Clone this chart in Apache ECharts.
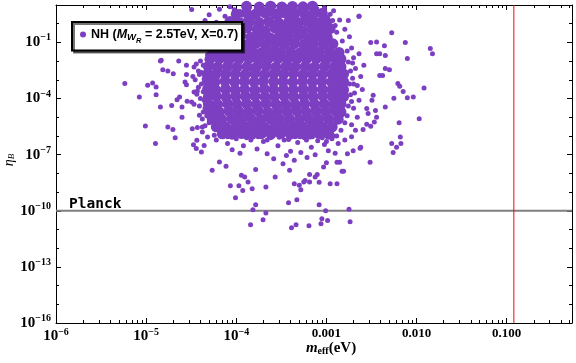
<!DOCTYPE html>
<html>
<head>
<meta charset="utf-8">
<script src="https://cdn.jsdelivr.net/npm/echarts@6/dist/echarts.min.js"></script>
<style>
  html, body { margin: 0; padding: 0; background: #fff; }
  #chart { width: 576px; height: 363px; }
</style>
</head>
<body>
<div id="chart"></div>
<script>
// m_eff (eV) vs eta_B
var coreCloud = [
  [1.3e-4,8.5],[1.8e-4,7.8],[2.4e-4,8.6],[3.2e-4,7.9],[4.2e-4,8.4],[5.5e-4,8.0],[7.0e-4,8.7],
  [1.0e-4,3.2],[1.3e-4,3.8],[1.65e-4,3.3],[2.1e-4,3.7],[2.7e-4,3.3],[3.45e-4,3.8],[4.4e-4,3.2],[5.6e-4,3.7],[7.2e-4,3.4],[9.0e-4,3.6],
  [8.5e-5,1.3],[1.1e-4,1.1],[1.4e-4,1.35],[1.8e-4,1.15],[2.3e-4,1.3],[2.95e-4,1.1],[3.8e-4,1.25],[4.85e-4,1.15],[6.2e-4,1.3],[8.0e-4,1.1],[1.0e-3,1.2],
  [8.2e-5,0.55],[1.05e-4,0.45],[1.32e-4,0.6],[1.7e-4,0.5],[2.1e-4,0.42],[2.7e-4,0.58],[3.4e-4,0.48],[4.3e-4,0.55],[5.4e-4,0.44],[6.9e-4,0.52],[8.8e-4,0.47],[1.1e-3,0.55],
  [6.5e-5,0.21],[8.6e-5,0.18],[1.12e-4,0.23],[1.45e-4,0.19],[1.85e-4,0.22],[2.35e-4,0.18],[3.0e-4,0.21],[3.8e-4,0.2],[4.9e-4,0.23],[6.2e-4,0.18],[7.9e-4,0.21],[1.02e-3,0.19],
  [6.2e-5,8.5e-2],[7.8e-5,7.5e-2],[1.0e-4,8.2e-2],[1.3e-4,7.6e-2],[1.65e-4,8.8e-2],[2.1e-4,7.4e-2],[2.7e-4,8.3e-2],[3.4e-4,7.8e-2],[4.4e-4,8.6e-2],[5.6e-4,7.6e-2],[7.2e-4,8.1e-2],[9.2e-4,7.9e-2],[1.18e-3,8.4e-2],
  [5.5e-5,3.2e-2],[7.1e-5,2.8e-2],[9.1e-5,3.1e-2],[1.17e-4,2.9e-2],[1.5e-4,3.3e-2],[1.9e-4,2.8e-2],[2.45e-4,3.1e-2],[3.1e-4,2.9e-2],[4.0e-4,3.2e-2],[5.1e-4,2.8e-2],[6.6e-4,3.1e-2],[8.4e-4,3.0e-2],[1.08e-3,3.2e-2],[1.38e-3,2.9e-2],
  [5.1e-5,1.25e-2],[6.5e-5,1.35e-2],[8.3e-5,1.2e-2],[1.07e-4,1.3e-2],[1.38e-4,1.4e-2],[1.75e-4,1.22e-2],[2.25e-4,1.3e-2],[2.9e-4,1.38e-2],[3.7e-4,1.24e-2],[4.7e-4,1.32e-2],[6.0e-4,1.27e-2],[7.7e-4,1.36e-2],[9.9e-4,1.22e-2],[1.27e-3,1.3e-2],[1.45e-3,1.28e-2],
  [4.9e-5,5.2e-3],[6.2e-5,4.7e-3],[8.0e-5,5.3e-3],[1.02e-4,4.8e-3],[1.32e-4,5.1e-3],[1.68e-4,4.9e-3],[2.15e-4,5.4e-3],[2.75e-4,4.7e-3],[3.55e-4,5.2e-3],[4.5e-4,4.9e-3],[5.8e-4,5.1e-3],[7.4e-4,4.8e-3],[9.5e-4,5.3e-3],[1.22e-3,4.9e-3],[1.45e-3,5.1e-3],
  [4.8e-5,2.1e-3],[5.9e-5,1.9e-3],[7.6e-5,2.1e-3],[9.7e-5,2.0e-3],[1.25e-4,1.9e-3],[1.6e-4,2.2e-3],[2.05e-4,1.9e-3],[2.6e-4,2.1e-3],[3.35e-4,2.0e-3],[4.3e-4,2.2e-3],[5.5e-4,1.9e-3],[7.0e-4,2.1e-3],[9.0e-4,1.95e-3],[1.15e-3,2.1e-3],[1.4e-3,1.9e-3],[1.55e-3,2.05e-3],
  [4.8e-5,8.3e-4],[5.8e-5,7.7e-4],[7.5e-5,8.5e-4],[9.6e-5,7.8e-4],[1.23e-4,8.2e-4],[1.58e-4,7.6e-4],[2.0e-4,8.4e-4],[2.6e-4,7.9e-4],[3.3e-4,8.1e-4],[4.25e-4,7.7e-4],[5.45e-4,8.3e-4],[7.0e-4,7.9e-4],[8.9e-4,8.2e-4],[1.14e-3,7.8e-4],[1.4e-3,8.3e-4],[1.55e-3,7.9e-4],
  [4.8e-5,3.1e-4],[5.9e-5,2.9e-4],[7.6e-5,3.2e-4],[9.7e-5,2.9e-4],[1.24e-4,3.1e-4],[1.6e-4,2.8e-4],[2.05e-4,3.2e-4],[2.6e-4,3.0e-4],[3.35e-4,3.1e-4],[4.3e-4,2.9e-4],[5.5e-4,3.2e-4],[7.0e-4,2.9e-4],[9.0e-4,3.1e-4],[1.15e-3,3.0e-4],[1.4e-3,3.2e-4],[1.55e-3,2.9e-4],
  [4.9e-5,1.25e-4],[6.0e-5,1.35e-4],[7.7e-5,1.22e-4],[9.9e-5,1.32e-4],[1.27e-4,1.26e-4],[1.62e-4,1.36e-4],[2.08e-4,1.24e-4],[2.65e-4,1.3e-4],[3.4e-4,1.34e-4],[4.35e-4,1.25e-4],[5.6e-4,1.32e-4],[7.15e-4,1.27e-4],[9.15e-4,1.35e-4],[1.17e-3,1.24e-4],[1.4e-3,1.3e-4],[1.55e-3,1.28e-4],
  [4.9e-5,5.2e-5],[6.2e-5,4.8e-5],[8.0e-5,5.3e-5],[1.02e-4,4.9e-5],[1.31e-4,5.1e-5],[1.68e-4,4.7e-5],[2.15e-4,5.3e-5],[2.75e-4,4.9e-5],[3.5e-4,5.1e-5],[4.5e-4,4.8e-5],[5.75e-4,5.2e-5],[7.4e-4,4.9e-5],[9.45e-4,5.1e-5],[1.21e-3,4.8e-5],[1.45e-3,5.2e-5],
  [5.1e-5,2.1e-5],[6.5e-5,1.9e-5],[8.3e-5,2.1e-5],[1.07e-4,2.0e-5],[1.37e-4,1.9e-5],[1.75e-4,2.2e-5],[2.24e-4,1.9e-5],[2.87e-4,2.1e-5],[3.67e-4,2.0e-5],[4.7e-4,2.2e-5],[6.0e-4,1.9e-5],[7.7e-4,2.1e-5],[9.85e-4,2.0e-5],[1.26e-3,2.1e-5],[1.45e-3,1.9e-5],
  [5.4e-5,8.2e-6],[6.9e-5,7.7e-6],[8.9e-5,8.4e-6],[1.14e-4,7.8e-6],[1.46e-4,8.1e-6],[1.87e-4,7.6e-6],[2.4e-4,8.3e-6],[3.05e-4,7.9e-6],[3.9e-4,8.2e-6],[5.0e-4,7.7e-6],[6.4e-4,8.4e-6],[8.2e-4,7.8e-6],[1.05e-3,8.1e-6],[1.35e-3,7.9e-6],
  [6.0e-5,3.1e-6],[7.7e-5,2.9e-6],[9.9e-5,3.2e-6],[1.27e-4,2.9e-6],[1.62e-4,3.1e-6],[2.08e-4,2.8e-6],[2.66e-4,3.2e-6],[3.4e-4,3.0e-6],[4.35e-4,3.1e-6],[5.55e-4,2.9e-6],[7.1e-4,3.2e-6],[9.1e-4,2.9e-6],[1.16e-3,3.1e-6],
  [7.0e-5,1.3e-6],[9.0e-5,1.25e-6],[1.15e-4,1.35e-6],[1.48e-4,1.22e-6],[1.9e-4,1.32e-6],[2.43e-4,1.26e-6],[3.1e-4,1.35e-6],[3.97e-4,1.24e-6],[5.1e-4,1.32e-6],[6.5e-4,1.27e-6],[8.3e-4,1.33e-6],[1.06e-3,1.25e-6]
];

var topBand = [
  [6.0e-5,1.2],[7.5e-5,2.5],[9.0e-5,0.9],[1.1e-4,4.5],[1.25e-4,1.5],[1.4e-4,7.5],[1.6e-4,3.0],[1.8e-4,1.0],[2.0e-4,6.0],[2.2e-4,2.0],
  [2.5e-4,0.8],[2.8e-4,4.0],[3.1e-4,1.4],[3.5e-4,8.0],[3.9e-4,2.6],[4.4e-4,1.0],[4.9e-4,5.0],[5.5e-4,1.8],[6.2e-4,3.5],[7.0e-4,0.9],
  [7.8e-4,6.5],[8.7e-4,2.0],[9.8e-4,1.1],[1.1e-3,3.2],[1.25e-3,0.8],[1.4e-3,1.6],[1.3e-4,0.9],[1.7e-4,1.6],[2.3e-4,3.5],[2.6e-4,9.0],
  [3.0e-4,2.2],[3.3e-4,0.75],[3.7e-4,4.8],[4.1e-4,1.5],[4.6e-4,3.0],[5.2e-4,8.5],[5.8e-4,1.1],[6.6e-4,2.4],[7.4e-4,1.5],[8.2e-4,4.2],
  [9.2e-4,0.75],[1.03e-3,2.2],[1.17e-3,1.5],[9.5e-5,5.5],[1.15e-4,2.8],[7.0e-5,0.8],[1.5e-4,1.1],[1.9e-4,8.8],[2.4e-4,1.3],[4.0e-4,6.8],
  [6.0e-4,6.0],[1.0e-4,1.8],[3.2e-5,5.7],[2.3e-3,2.5],[5.0e-5,3.0],[6.5e-5,6.0],[4.5e-5,1.5],[8.5e-5,8.0],[9.5e-4,7.0],[1.2e-3,5.0]
];

var leftSpread = [
  [5.8e-6,6.3e-4],[8.4e-6,1.2e-4],[1.04e-5,5.1e-4],[1.18e-5,6.7e-4],[1.29e-5,4.1e-4],[1.29e-5,1.6e-4],[1.44e-5,1.0e-2],[2.3e-5,1.0e-2],
  [1.53e-5,3.5e-3],[1.74e-5,3.0e-3],[2.0e-5,2.1e-3],[2.8e-5,6.0e-3],[3.4e-5,4.8e-3],[2.8e-5,1.9e-3],[2.7e-5,7.6e-4],[2.8e-5,5.5e-4],
  [3.4e-5,2.2e-4],[3.65e-5,1.7e-4],[1.44e-5,3.5e-5],[1.92e-5,4.3e-5],[2.2e-5,8.7e-5],[2.35e-5,1.2e-4],[2.5e-5,3.5e-5],[2.5e-5,1.0e-5],
  [2.85e-5,7.1e-5],[3.2e-5,6.5e-5],[9.8e-6,3.4e-6],[1.27e-5,3.9e-7],[1.74e-5,3.0e-6],[1.98e-5,2.2e-6],[2.1e-5,8.1e-7],[3.25e-5,2.45e-6],
  [3.7e-5,2.8e-6],[4.2e-5,3.0e-6],[4.2e-5,1.6e-6],[3.65e-5,5.8e-7],[3.35e-5,3.4e-7],[3.6e-5,2.1e-7],[5.7e-5,1.08e-6],[3.9e-5,1.26e-5],
  [4.3e-5,1.9e-5],[3.9e-5,1.9e-3],[4.45e-5,1.7e-3],[1.47e-5,1.1e-2],[4.0e-5,1.0e-2],[3.8e-5,3.0e-3],[3.5e-5,1.0e-3],[3.8e-5,4.0e-4],
  [4.0e-5,1.0e-4],[3.9e-5,4.0e-5],[4.2e-5,8.0e-6],[4.5e-5,3.5e-6],[5.0e-5,5.0e-2],[4.6e-5,0.15],[5.5e-5,0.4],
  [4.3e-5,6.0e-3],[4.1e-5,2.5e-3],[4.4e-5,1.1e-3],[4.1e-5,6.0e-4],[4.3e-5,2.3e-4],[4.4e-5,8.0e-5],[4.5e-5,3.0e-5],[4.7e-5,1.2e-5],
  [5.0e-5,5.0e-6],[3.6e-5,7.0e-3],[3.3e-5,1.5e-3],[3.7e-5,2.5e-4],[3.4e-5,5.0e-5],[4.8e-5,2.2e-2],[5.3e-5,9.0e-2],[6.0e-5,0.6]
];

var rightSpread = [
  [2.3e-3,2.5],[5.3e-3,0.33],[7.5e-3,0.1],[1.42e-2,4.7e-2],[1.5e-2,2.5e-2],[7.9e-3,1.4e-2],[3.1e-3,9.8e-2],[3.6e-3,0.105],
  [4.4e-3,6.7e-2],[3.6e-3,2.5e-2],[3.9e-3,2.5e-2],[4.5e-3,2.0e-2],[4.5e-3,4.0e-3],[5.0e-3,3.5e-3],[3.9e-3,1.7e-3],[4.2e-3,1.7e-3],
  [6.2e-3,6.3e-4],[6.5e-3,4.5e-4],[7.1e-3,2.4e-4],[7.9e-3,1.1e-4],[9.2e-3,1.2e-4],[1.21e-2,3.7e-4],[5.6e-3,1.05e-4],[1.07e-2,8.4e-6],
  [4.5e-3,3.5e-5],[6.4e-3,5.0e-6],[6.6e-3,8.7e-7],[5.3e-3,3.9e-7],[6.0e-3,2.5e-7],[6.7e-3,3.9e-7],[5.5e-3,1.3e-7],[3.3e-3,1.5e-4],
  [3.2e-3,8.0e-5],[2.8e-3,2.9e-5],[2.9e-3,1.6e-5],[3.6e-3,1.0e-5],[3.4e-3,5.5e-6],[2.4e-3,2.5e-7],[3.5e-3,2.3e-5],[3.1e-3,3.3e-6],
  [2.55e-3,2.2e-6],[2.8e-3,4.2e-6],[3.05e-3,3.9e-8],[2.36e-3,2.2e-7],[1.98e-3,1.6e-7],[1.71e-3,1.1e-7],
  [1.9e-3,5.0e-2],[2.0e-3,1.5e-2],[2.1e-3,4.0e-3],[1.95e-3,1.2e-3],[2.2e-3,5.0e-4],[2.05e-3,2.0e-4],[2.3e-3,8.0e-5],[2.0e-3,3.0e-5],
  [2.2e-3,1.0e-5],[1.9e-3,4.0e-6],[2.1e-3,2.0e-6],[2.4e-3,1.5e-3],[2.5e-3,3.0e-4],[2.6e-3,6.0e-3],[1.8e-3,0.2],[1.6e-3,0.5],
  [2.3e-3,2.5e-2],[1.75e-3,1.5],
  [1.7e-3,3.5e-2],[1.75e-3,9.0e-3],[1.85e-3,3.0e-3],[1.8e-3,6.0e-4],[1.85e-3,1.6e-4],[1.75e-3,4.0e-5],[1.7e-3,1.2e-5],[1.6e-3,5.0e-6],
  [1.45e-3,2.0e-6],[1.3e-3,1.0e-6],[1.5e-3,0.12],[1.3e-3,0.35],[1.9e-3,7.0e-5],[2.0e-3,6.0e-4],[1.95e-3,8.0e-3]
];

var lowSpread = [
  [6.0e-5,6.0e-7],[8.0e-5,4.0e-7],[1.0e-4,7.0e-7],[1.2e-4,3.0e-7],[1.45e-4,6.0e-7],[1.7e-4,2.0e-7],[2.0e-4,5.0e-7],[2.4e-4,8.0e-7],
  [2.9e-4,3.0e-7],[3.4e-4,6.0e-7],[4.0e-4,1.5e-7],[4.8e-4,4.5e-7],[5.7e-4,8.0e-7],[6.8e-4,2.5e-7],[8.0e-4,5.5e-7],[9.5e-4,3.5e-7],
  [1.15e-3,7.0e-7],[1.35e-3,4.0e-7],[1.6e-3,6.0e-7],[1.9e-3,9.0e-7],[1.1e-4,1.2e-7],[2.2e-4,1.1e-7],[3.6e-4,9.0e-8],[5.2e-4,1.3e-7],
  [7.5e-4,1.0e-7],[1.05e-3,1.6e-7],[9.0e-5,1.8e-7],[2.6e-4,6.0e-8],[4.4e-4,5.0e-8],[6.1e-4,7.0e-8],[1.25e-3,1.2e-7],
  [8.0e-5,9.0e-7],[1.3e-4,8.0e-7],[1.75e-4,9.0e-7],[2.2e-4,6.0e-7],[3.0e-4,8.5e-7],[3.8e-4,6.5e-7],[4.5e-4,9.0e-7],[6.0e-4,6.0e-7],
  [7.0e-4,9.0e-7],[9.0e-4,8.0e-7],[1.0e-3,5.0e-7],[1.2e-3,1.0e-6],
  [5.4e-5,1.45e-8],[8.6e-5,2.2e-9],[1.07e-4,2.2e-9],[1.18e-4,1.23e-9],[9.8e-5,5.0e-10],[1.35e-4,3.4e-9],[1.5e-4,1.5e-9],[2.13e-4,1.85e-9],
  [2.7e-4,6.3e-9],[4.4e-4,2.8e-9],[5.0e-4,2.3e-9],[5.2e-4,1.34e-9],[5.6e-4,3.4e-9],[6.5e-4,3.4e-9],[5.8e-4,4.2e-9],[8.3e-4,3.3e-9],
  [1.1e-3,2.8e-9],[1.31e-3,2.8e-9],[3.8e-4,2.7e-10],[4.7e-4,3.9e-10],[1.64e-4,2.1e-10],[1.53e-4,1.15e-10],[2.13e-4,7.5e-11],[1.98e-4,3.3e-11],
  [1.44e-4,1.8e-11],[8.3e-4,2.1e-10],[9.8e-4,1.0e-10],[1.78e-3,1.19e-10],[8.9e-4,3.8e-11],[1.03e-3,3.0e-11],[8.7e-4,2.0e-11],[1.83e-3,2.6e-11],
  [4.1e-4,1.25e-11],[4.6e-4,1.8e-11],[6.4e-4,1.6e-11],[1.49e-3,1.28e-8],[1.55e-3,1.28e-8],[1.31e-3,3.9e-8],[1.4e-3,3.9e-8],[1.0e-3,3.7e-8],
  [9.3e-4,2.2e-8],[7.5e-4,6.3e-9],[6.5e-4,8.8e-9],[7.9e-4,8.8e-9],[4.8e-5,8.7e-7],[4.4e-5,3.1e-7],[4.1e-5,1.4e-7],[6.5e-5,4.0e-8],
  [7.7e-5,2.4e-8],[1.14e-4,7.8e-9],[1.24e-4,6.3e-9],[3.3e-4,3.3e-8],[3.9e-4,1.45e-8],[1.64e-4,1.6e-8]
];

var xMajor = [1e-6, 1e-5, 1e-4, 1e-3, 1e-2, 1e-1];
var xLabels = ['10{s|\u22126}', '10{s|\u22125}', '10{s|\u22124}', '{d|0.001}', '{d|0.010}', '{d|0.100}'];
var yMajor = [1e-16, 1e-13, 1e-10, 1e-7, 1e-4, 1e-1];
var yLabels = ['10{s|\u221216}', '10{s|\u221213}', '10{s|\u221210}', '10{s|\u22127}', '10{s|\u22124}', '10{s|\u22121}'];
var planck = 1e-10;
var mLimit = 0.12;

var xMin = 1e-6, xMax = 0.53, yMin = 1e-16, yMax = 10;

// minor ticks: 2..9 in every decade on x, every decade on y
var xMinor = [];
for (var e = -6; e <= -1; e++) {
  for (var m = 2; m <= 9; m++) {
    var v = m * Math.pow(10, e);
    if (v <= xMax) xMinor.push(v);
  }
}
var yMinor = [];
for (var k = -16; k <= 1; k++) yMinor.push(Math.pow(10, k));

var purple = '#7d3fc1';
var labelRich = {
  s: { fontSize: 10, fontFamily: 'Liberation Serif', fontWeight: 'bold', padding: [0, 0, 9, 0], color: '#000' },
  d: { fontSize: 13, fontFamily: 'Liberation Serif', fontWeight: 'bold', color: '#000' }
};

function xLabel(val) {
  var i = xMajor.findIndex(function (t) { return Math.abs(Math.log10(t) - Math.log10(val)) < 1e-6; });
  return i < 0 ? '' : xLabels[i];
}
function yLabel(val) {
  var i = yMajor.findIndex(function (t) { return Math.abs(Math.log10(t) - Math.log10(val)) < 1e-6; });
  return i < 0 ? '' : yLabels[i];
}

function xAx(pos, major) {
  return {
    type: 'log', logBase: 10, min: xMin, max: xMax, position: pos,
    axisLine: { show: major, onZero: false, lineStyle: { color: '#000', width: 1 } },
    axisTick: { show: true, inside: true, length: major ? 5 : 3, customValues: major ? xMajor : xMinor, lineStyle: { color: '#000' } },
    axisLabel: (pos === 'bottom' && major) ? {
      show: true, customValues: xMajor, formatter: xLabel, margin: 4,
      fontSize: 15, fontFamily: 'Liberation Serif', fontWeight: 'bold', color: '#000', rich: labelRich
    } : { show: false },
    splitLine: { show: false },
    name: (pos === 'bottom' && major) ? '{i|m}{sub|eff}{n|(eV)}' : '',
    nameLocation: 'middle', nameGap: 18, nameMoveOverlap: false,
    nameTextStyle: {
      padding: [0, 0, 0, 34],
      rich: {
        i: { fontFamily: 'Liberation Serif', fontStyle: 'italic', fontWeight: 'bold', fontSize: 15, color: '#000' },
        sub: { fontFamily: 'Liberation Serif', fontWeight: 'bold', fontSize: 10, padding: [5, 0, 0, 0], color: '#000' },
        n: { fontFamily: 'Liberation Serif', fontWeight: 'bold', fontSize: 15, color: '#000' }
      }
    }
  };
}
function yAx(pos, major) {
  return {
    type: 'log', logBase: 10, min: yMin, max: yMax, position: pos,
    axisLine: { show: major, onZero: false, lineStyle: { color: '#000', width: 1 } },
    axisTick: { show: true, inside: true, length: major ? 5 : 3, customValues: major ? yMajor : yMinor, lineStyle: { color: '#000' } },
    axisLabel: (pos === 'left' && major) ? {
      show: true, customValues: yMajor, formatter: yLabel, margin: 5,
      fontSize: 15, fontFamily: 'Liberation Serif', fontWeight: 'bold', color: '#000', rich: labelRich
    } : { show: false },
    splitLine: { show: false },
    name: (pos === 'left' && major) ? '{i|\u03b7}{sub|B}' : '',
    nameLocation: 'middle', nameGap: 40, nameRotate: 90, nameMoveOverlap: false,
    nameTextStyle: {
      padding: [0, 0, 0, 8],
      rich: {
        i: { fontFamily: 'Liberation Serif', fontStyle: 'italic', fontSize: 14, color: '#000' },
        sub: { fontFamily: 'Liberation Serif', fontStyle: 'italic', fontSize: 9, padding: [5, 0, 0, 0], color: '#000' }
      }
    }
  };
}

var chart = echarts.init(document.getElementById('chart'), null, { renderer: 'canvas' });
chart.setOption({
  animation: false,
  backgroundColor: '#fff',
  grid: { left: 56, right: 4, top: 5, bottom: 40, containLabel: false, outerBoundsMode: 'none' },
  legend: {
    data: ['NH'],
    left: 72, top: 22,
    padding: [6, 4, 6, 8],
    backgroundColor: '#fff',
    borderColor: '#000', borderWidth: 2,
    shadowColor: 'rgba(0,0,0,0.55)', shadowOffsetX: 2, shadowOffsetY: 2, shadowBlur: 0,
    icon: 'circle', itemWidth: 6, itemHeight: 6, itemGap: 4,
    formatter: function () { return '{a|NH (}{m|M}{w|W}{r|R}{a| = 2.5TeV, X=0.7)}'; },
    textStyle: {
      rich: {
        a: { fontFamily: 'Liberation Sans', fontWeight: 'bold', fontSize: 12.5, color: '#000' },
        m: { fontFamily: 'Liberation Sans', fontWeight: 'bold', fontStyle: 'italic', fontSize: 12.5, color: '#000' },
        w: { fontFamily: 'Liberation Sans', fontWeight: 'bold', fontStyle: 'italic', fontSize: 9.5, padding: [6, 0, 0, 0], color: '#000' },
        r: { fontFamily: 'Liberation Sans', fontWeight: 'bold', fontStyle: 'italic', fontSize: 7.5, padding: [12, 0, 0, 0], color: '#000' }
      }
    }
  },
  xAxis: [xAx('bottom', true), xAx('bottom', false), xAx('top', true), xAx('top', false)],
  yAxis: [yAx('left', true), yAx('left', false), yAx('right', true), yAx('right', false)],
  series: [
    {
      name: 'planck', type: 'line', xAxisIndex: 0, yAxisIndex: 0, z: 1,
      symbol: 'circle', symbolSize: 0, showSymbol: true, silent: true,
      lineStyle: { color: '#7f7f7f', width: 2 },
      data: [
        {
          value: [xMin, planck],
          label: {
            show: true, position: 'top', align: 'left', offset: [13, 2], distance: 1,
            formatter: 'Planck', fontFamily: 'DejaVu Sans Mono', fontWeight: 'bold', fontSize: 14.5, color: '#000'
          }
        },
        [xMax, planck]
      ]
    },
    {
      name: 'limit', type: 'line', xAxisIndex: 0, yAxisIndex: 0, z: 1,
      symbol: 'none', silent: true,
      lineStyle: { color: '#ff0000', width: 1 },
      data: [[mLimit, yMin], [mLimit, yMax]]
    },
    {
      name: 'NH', type: 'scatter', xAxisIndex: 0, yAxisIndex: 0,
      symbol: 'circle', symbolSize: 11, itemStyle: { color: purple, opacity: 1 },
      data: coreCloud, z: 2
    },
    {
      name: 'NH', type: 'scatter', xAxisIndex: 0, yAxisIndex: 0,
      symbol: 'circle', symbolSize: 5, itemStyle: { color: purple, opacity: 1 },
      data: topBand.concat(leftSpread, rightSpread, lowSpread), z: 2
    }
  ]
});
</script>
</body>
</html>
